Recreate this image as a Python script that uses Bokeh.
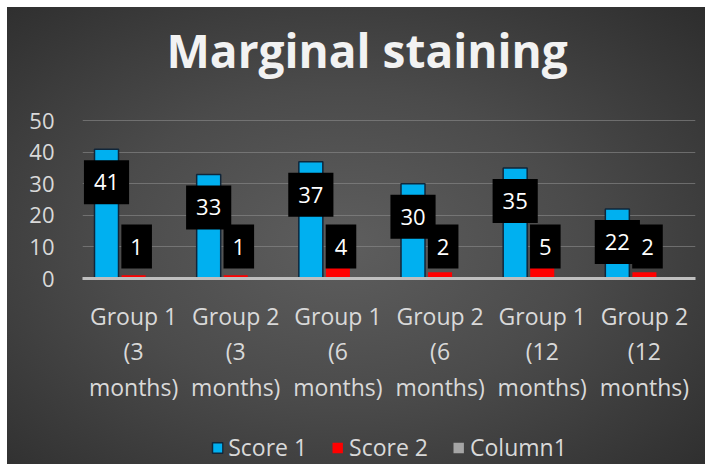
from bokeh.plotting import figure
from bokeh.layouts import column
from bokeh.models import ColumnDataSource, FactorRange, Legend, LegendItem, FixedTicker, Title
from bokeh.transform import dodge
from bokeh.embed import file_html
from bokeh.resources import INLINE

# ---- data ----
categories = ["Group 1\n(3\nmonths)", "Group 2\n(3\nmonths)", "Group 1\n(6\nmonths)",
              "Group 2\n(6\nmonths)", "Group 1\n(12\nmonths)", "Group 2\n(12\nmonths)"]
score1 = [41, 33, 37, 30, 35, 22]
score2 = [1, 1, 4, 2, 5, 2]
column1 = [0, 0, 0, 0, 0, 0]
series_names = ["Score 1", "Score 2", "Column1"]
series_colors = ["#00b0f0", "#ff0000", "#a5a5a5"]
y_ticks = [0, 10, 20, 30, 40, 50]
chart_title = "Marginal staining"

FONT = "Open Sans"
LABEL_COLOR = "#d9d9d9"

src = ColumnDataSource(dict(
    cat=categories, s1=score1, s2=score2, c1=column1,
    s1_txt=[str(v) for v in score1], s2_txt=[str(v) for v in score2],
    zero=[0] * len(categories),
))

p = figure(frame_width=613, frame_height=159, x_range=FactorRange(*categories), y_range=(0, 50.4),
           output_backend="svg", toolbar_location=None, title_location=None,
           min_border_left=75, min_border_right=10, min_border_top=112, min_border_bottom=140)
p.border_fill_color = None
p.background_fill_color = None
p.outline_line_color = None

# title (spacer keeps the gap between title and plot area)
p.add_layout(Title(text=" ", text_font_size="1px", standoff=34), "above")
p.add_layout(Title(text=chart_title, text_font=FONT, text_font_style="bold",
                   text_font_size="46px", text_color="#f2f2f2",
                   align="left", offset=84, standoff=4), "above")

W = 0.235
OFFS = [-0.265, 0.0, 0.265]
TOPS = ["s1", "s2", "c1"]
OUTLINES = [dict(line_color="#10263a", line_width=1.5), dict(line_color=None), dict(line_color=None)]

bars = [p.vbar(x=dodge("cat", OFFS[i], range=p.x_range), top=TOPS[i], width=W, source=src,
               fill_color=series_colors[i], **OUTLINES[i]) for i in range(3)]

# data labels
p.text(x=dodge("cat", -0.265, range=p.x_range), y="s1", text="s1_txt", source=src,
       text_color="white", text_font_size="22px", text_font={"value": FONT},
       text_align="center", text_baseline="middle", y_offset=33,
       background_fill_color="black", padding=(10, 14))
p.text(x=dodge("cat", 0.03, range=p.x_range), y="zero", text="s2_txt", source=src,
       text_color="white", text_font_size="22px", text_font={"value": FONT},
       text_align="center", text_baseline="middle", y_offset=-32,
       background_fill_color="black", padding=(9, 14))

# axes
p.yaxis.ticker = FixedTicker(ticks=y_ticks)
p.yaxis.axis_line_color = None
p.yaxis.major_tick_line_color = None
p.yaxis.minor_tick_line_color = None
p.yaxis.major_label_standoff = 22
p.yaxis.major_label_text_font = FONT
p.yaxis.major_label_text_font_size = "22px"
p.yaxis.major_label_text_color = LABEL_COLOR

p.xaxis.axis_line_color = "#bfbfbf"
p.xaxis.axis_line_width = 3
p.xaxis.major_tick_line_color = None
p.xaxis.minor_tick_line_color = None
p.xaxis.major_label_standoff = 15
p.xaxis.major_label_text_font = FONT
p.xaxis.major_label_text_font_size = "23px"
p.xaxis.major_label_text_color = LABEL_COLOR
p.xaxis.major_label_text_line_height = 1.115

p.xgrid.grid_line_color = None
p.ygrid.grid_line_color = "#8c8c8c"
p.ygrid.grid_line_alpha = 0.6

# ---- legend strip (own small figure below the chart) ----
lg = figure(width=698, height=46, x_range=p.x_range, y_range=p.y_range,
            output_backend="svg", toolbar_location=None, title_location=None,
            x_axis_location=None, y_axis_location=None,
            min_border_left=75, min_border_right=10, min_border_top=0, min_border_bottom=0)
lg.grid.visible = False
lg.border_fill_color = None
lg.background_fill_color = None
lg.outline_line_color = None
proxies = [lg.vbar(x=dodge("cat", OFFS[i], range=lg.x_range), top=TOPS[i], width=W, source=src,
                   fill_color=series_colors[i], visible=False, **OUTLINES[i]) for i in range(3)]
legend = Legend(items=[LegendItem(label=series_names[i], renderers=[proxies[i]]) for i in range(3)],
                orientation="horizontal", location="bottom_center",
                background_fill_color=None, border_line_color=None,
                inactive_fill_alpha=0.0,
                label_text_font=FONT, label_text_font_size="23px", label_text_color=LABEL_COLOR,
                glyph_width=13, glyph_height=13, spacing=24, margin=1, padding=0,
                label_standoff=5)
lg.add_layout(legend, "center")

layout = column(p, lg, spacing=0, margin=(7, 0, 0, 7),
                styles={"background-image": "radial-gradient(ellipse 75% 75% at 48% 52%, #5e5e5e 0%, #4b4b4b 45%, #2c2c2c 100%)"})

open("out.html", "w").write(file_html(layout, INLINE))
